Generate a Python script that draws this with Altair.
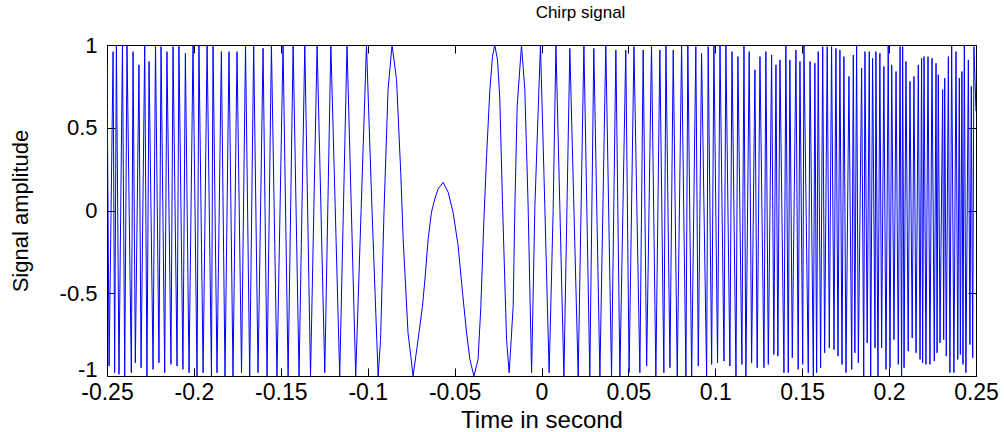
import altair as alt
import pandas as pd

# Extrema / shape points of the chirp (time in s, amplitude)
tA = [-0.2500, -0.2488, -0.2465, -0.2456, -0.2446, -0.2431, -0.2411, -0.2398, -0.2385, -0.2360,
      -0.2350, -0.2337, -0.2316, -0.2304, -0.2283, -0.2270, -0.2258, -0.2235, -0.2221, -0.2201,
      -0.2189, -0.2168, -0.2155, -0.2132, -0.2120, -0.2097, -0.2086, -0.2063]
aA = [0.88, -0.94, 0.96, -0.98, 1.0, -0.99, 1.0, -1.0, 1.0, -0.98,
      0.96, -0.92, 0.88, -0.95, 1.0, -1.0, 0.9, -0.96, 1.0, -0.92,
      0.99, -0.98, 0.96, -0.93, 0.99, -0.94, 1.0, -0.96]

tB = [-0.2049, -0.2028, -0.2005, -0.1982, -0.1971, -0.1947, -0.1924, -0.1899, -0.1890, -0.1867,
      -0.1842, -0.1821, -0.1798, -0.1775, -0.1752, -0.1726, -0.1703, -0.1679, -0.1656, -0.1631, -0.1602]
aB = [0.95, -0.98, 1.0, -1.0, 1.0, -0.98, 1.0, -1.0, 1.0, -0.98,
      0.96, -1.0, 0.96, -1.0, 0.96, -0.98, 1.0, -1.0, 1.0, -0.98, 0.98]

tC = [-0.1579, -0.1554, -0.1522, -0.1487, -0.1458, -0.1429, -0.1395, -0.1362, -0.1329, -0.1291,
      -0.1247, -0.1212, -0.1161]
aC = [-1.0, 1.0, -1.0, 1.0, -1.0, 1.0, -1.0, 1.0, -1.0, 1.0, -0.98, 1.0, -1.0]

tD = [-0.1119, -0.1069, -0.1038, -0.1007, -0.0975, -0.0940, -0.0926, -0.0906, -0.0883, -0.0860,
      -0.0834, -0.0810, -0.0796, -0.0768, -0.0752, -0.0739, -0.0710, -0.0685]
aD = [1.0, -1.0, 0.0, 1.0, 0.0, -1.0, -0.78, 0.0, 0.73, 1.0,
      0.79, 0.23, -0.17, -0.74, -0.88, -1.0, -0.78, -0.58]

tE = [-0.0671, -0.0652, -0.0633, -0.0614, -0.0595, -0.0566, -0.0537, -0.0509, -0.0480, -0.0454,
      -0.0431, -0.0412, -0.0389, -0.0365, -0.0349, -0.0332, -0.0316, -0.0297, -0.0282, -0.0269,
      -0.0253, -0.0240, -0.0224, -0.0201]
aE = [-0.42, -0.17, -0.01, 0.07, 0.13, 0.17, 0.11, -0.01, -0.21, -0.5,
      -0.74, -0.9, -1.0, -0.9, -0.58, -0.07, 0.33, 0.73, 0.93, 1.0,
      0.91, 0.68, 0.03, -0.78]

tF = [-0.0186, -0.0163, -0.0153, -0.0140, -0.0115, -0.0096, -0.0077, -0.0057, -0.0038, -0.0006,
      0.0019, 0.0044, 0.0067, 0.0083, 0.0106, 0.0129, 0.0163, 0.0211, 0.0244]
aF = [-0.98, -0.58, 0.03, 0.63, 1.0, 0.73, 0.03, -0.98, 0.03, 1.0,
      0.03, -0.98, 0.0, 1.0, 0.0, -1.0, 0.98, -1.0, 1.0]

tG = [0.0278, 0.0301, 0.0336, 0.0370, 0.0403, 0.0428, 0.0451, 0.0485, 0.0504, 0.0532,
      0.0566, 0.0585, 0.0605, 0.0633, 0.0658, 0.0681]
aG = [-1.0, 0.98, -1.0, 1.0, -1.0, 0.97, -1.0, 0.97, -0.98, 0.99,
      -0.98, 0.97, -0.94, 1.0, -1.0, 0.97]

tH = [0.0704, 0.0716, 0.0739, 0.0758, 0.0781, 0.0806, 0.0831, 0.0842, 0.0864, 0.0888,
      0.0902, 0.0921, 0.0950, 0.0959, 0.0979, 0.0992, 0.1013, 0.1027, 0.1050, 0.1061,
      0.1084, 0.1096, 0.1119, 0.1130, 0.1153, 0.1165]
aH = [-0.98, 1.0, -0.95, 0.97, -1.0, 1.0, -1.0, 1.0, -1.0, 0.99,
      -0.94, 0.95, -1.0, 0.99, -0.93, 1.0, -0.92, 1.0, -0.91, 1.0,
      -0.94, 0.96, -1.0, 0.93, -0.93, 1.0]

tI = [0.1176, 0.1195, 0.1209, 0.1228, 0.1241, 0.1257, 0.1280, 0.1291, 0.1305, 0.1324,
      0.1337, 0.1349, 0.1360, 0.1372, 0.1395, 0.1406, 0.1420, 0.1429, 0.1443, 0.1464,
      0.1477, 0.1487, 0.1503, 0.1510, 0.1535, 0.1545, 0.1564, 0.1573, 0.1583, 0.1592, 0.1606]
aI = [-1.0, 0.96, -0.92, 0.85, -0.95, 0.93, -0.95, 0.96, -0.93, 0.94,
      -0.87, 0.88, -0.88, 0.91, -0.98, 1.0, -0.98, 0.91, -0.89, 0.97,
      -0.96, 0.9, -0.93, 1.0, -0.98, 0.9, -1.0, 0.89, -0.98, 0.96, -0.95]

tJ = [0.1618, 0.1629, 0.1644, 0.1656, 0.1669, 0.1683, 0.1694, 0.1706, 0.1717, 0.1729,
      0.1740, 0.1752, 0.1769, 0.1785, 0.1794, 0.1803, 0.1813, 0.1823, 0.1842, 0.1854,
      0.1861, 0.1874, 0.1886, 0.1894, 0.1905, 0.1919, 0.1924, 0.1936, 0.1947, 0.1957,
      0.1970, 0.1982, 0.1995, 0.2005, 0.2015, 0.2028, 0.2040, 0.2053, 0.2063, 0.2072, 0.2078]
aJ = [0.99, -0.86, 0.99, -0.83, 0.99, -0.84, 0.98, -0.88, 0.97, -0.93,
      0.93, -0.98, 0.81, -0.96, 0.94, -0.86, 1.0, -0.92, 0.86, -1.0,
      0.96, -0.8, 0.96, -1.0, 0.92, -0.83, 0.96, -1.0, 0.95, -0.83,
      0.87, -0.96, 1.0, -0.95, 0.88, -0.78, 0.84, -0.93, 0.99, -1.0, 0.99]

tK = [0.2086, 0.2097, 0.2110, 0.2120, 0.2133, 0.2143, 0.2155, 0.2168, 0.2178, 0.2187,
      0.2193, 0.2201, 0.2212, 0.2224, 0.2235, 0.2247, 0.2260, 0.2270, 0.2276, 0.2283,
      0.2293, 0.2308, 0.2314, 0.2320, 0.2329, 0.2341, 0.2350, 0.2360, 0.2373, 0.2385,
      0.2395, 0.2404, 0.2410, 0.2419, 0.2425, 0.2433, 0.2442, 0.2456, 0.2465, 0.2473,
      0.2481, 0.2488, 0.2500]
aK = [-0.95, 0.9, -0.85, 0.78, -0.77, 0.81, -0.86, 0.88, -0.9, 0.92,
      -0.92, 0.93, -0.93, 0.93, -0.93, 0.92, -0.91, 0.89, -0.86, 0.82,
      -0.8, 0.73, -0.78, 0.8, -0.88, 0.93, -0.98, 1.0, -0.98, 0.96,
      -0.9, 0.8, -0.87, 0.84, -0.93, 1.0, -0.98, 0.91, -0.81, 0.75,
      -0.89, 0.99, 0.6]

x_ticks = [-0.25, -0.2, -0.15, -0.1, -0.05, 0, 0.05, 0.1, 0.15, 0.2, 0.25]
y_ticks = [-1, -0.5, 0, 0.5, 1]

times = tA + tB + tC + tD + tE + tF + tG + tH + tI + tJ + tK
amps = aA + aB + aC + aD + aE + aF + aG + aH + aI + aJ + aK
df = pd.DataFrame({"t": times, "a": amps})

FONT = "Liberation Sans"
xs = alt.Scale(domain=[-0.25, 0.25], nice=False, zero=False)
ys = alt.Scale(domain=[-1, 1], nice=False, zero=False)

main = alt.Chart(df).mark_line(color="#0000ff", strokeWidth=1, clip=True).encode(
    x=alt.X("t:Q", scale=xs, axis=alt.Axis(
        orient="bottom", values=x_ticks, title="Time in second", offset=-8, tickSize=8,
        domain=False, grid=False, labelExpr="'' + datum.value", labelPadding=5,
        labelFontSize=23, labelFont=FONT, labelColor="black", labelFlush=False,
        labelOverlap=False, tickColor="black", titleFont=FONT, titleFontSize=24,
        titleFontWeight="normal", titleColor="black", titlePadding=4)),
    y=alt.Y("a:Q", scale=ys, axis=alt.Axis(
        orient="left", values=y_ticks, title="Signal amplitude", offset=-8, tickSize=8,
        domain=False, grid=False, labelExpr="'' + datum.value", labelPadding=10,
        labelOffset={"condition": {"test": "datum.value == -1", "value": -7}, "value": 0},
        labelFontSize=22, labelFont=FONT, labelColor="black", labelFlush=False,
        labelOverlap=False, tickColor="black", titleFont=FONT, titleFontSize=22,
        titleFontWeight="normal", titleColor="black", titlePadding=27)),
)

ghost = alt.Chart(df).mark_line(opacity=0).encode(
    x=alt.X("t:Q", scale=xs, axis=alt.Axis(
        orient="top", values=x_ticks, title=None, labels=False, offset=-8, tickSize=8,
        domain=False, grid=False, tickColor="black")),
    y=alt.Y("a:Q", scale=ys, axis=alt.Axis(
        orient="right", values=y_ticks, title=None, labels=False, offset=-8, tickSize=8,
        domain=False, grid=False, tickColor="black")),
)

chart = alt.layer(main, ghost).resolve_axis(x="independent", y="independent").properties(
    width=869, height=331,
    autosize=alt.AutoSizeParams(type="none"),
    padding={"left": 107, "top": 45, "right": 28, "bottom": 56},
    title=alt.Title("Chirp signal", font=FONT, fontSize=17, fontWeight="normal",
                    color="black", offset=12, dx=39),
    background="white",
).configure_view(stroke="black", strokeWidth=1)

chart.save("out.html", embed_options={"renderer": "svg", "actions": False})
